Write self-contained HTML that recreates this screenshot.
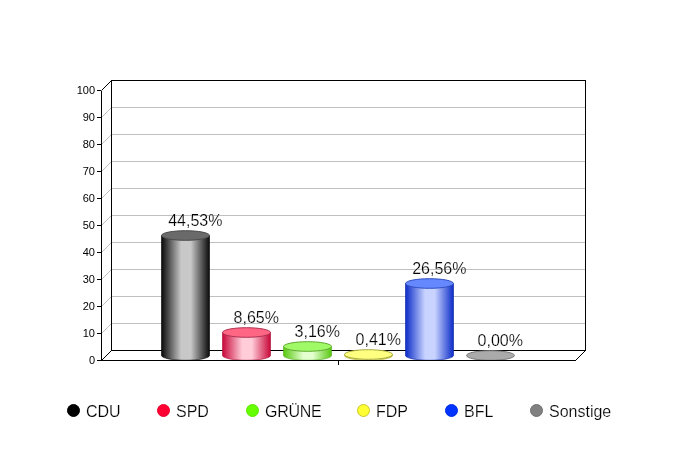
<!DOCTYPE html>
<html lang="de">
<head>
<meta charset="utf-8">
<title>Wahlergebnis</title>
<style>
html,body{margin:0;padding:0;background:#fff;}
body{width:678px;height:450px;overflow:hidden;}
svg{display:block;font-family:"Liberation Sans",Arial,sans-serif;}
.ax{font-size:11px;fill:#000;text-anchor:end;}
.val{font-size:16px;fill:#000;text-anchor:middle;stroke:#fff;stroke-width:0.2px;}
.leg{font-size:16px;fill:#000;stroke:#fff;stroke-width:0.2px;}
</style>
</head>
<body>
<svg width="678" height="450" viewBox="0 0 678 450">
<rect width="678" height="450" fill="#ffffff"/>
<defs>
<linearGradient id="g0" x1="0" y1="0" x2="1" y2="0"><stop offset="0" stop-color="#0a0a0a"/><stop offset="0.41" stop-color="#c8c8c8"/><stop offset="0.61" stop-color="#c8c8c8"/><stop offset="1" stop-color="#0a0a0a"/></linearGradient>
<linearGradient id="g1" x1="0" y1="0" x2="1" y2="0"><stop offset="0" stop-color="#c8083a"/><stop offset="0.41" stop-color="#ffccd8"/><stop offset="0.61" stop-color="#ffccd8"/><stop offset="1" stop-color="#c8083a"/></linearGradient>
<linearGradient id="g2" x1="0" y1="0" x2="1" y2="0"><stop offset="0" stop-color="#58c810"/><stop offset="0.41" stop-color="#e4ffd0"/><stop offset="0.61" stop-color="#e4ffd0"/><stop offset="1" stop-color="#58c810"/></linearGradient>
<linearGradient id="g3" x1="0" y1="0" x2="1" y2="0"><stop offset="0" stop-color="#c8c820"/><stop offset="0.41" stop-color="#ffffd8"/><stop offset="0.61" stop-color="#ffffd8"/><stop offset="1" stop-color="#c8c820"/></linearGradient>
<linearGradient id="g4" x1="0" y1="0" x2="1" y2="0"><stop offset="0" stop-color="#0c2cc8"/><stop offset="0.41" stop-color="#c8d4ff"/><stop offset="0.61" stop-color="#c8d4ff"/><stop offset="1" stop-color="#0c2cc8"/></linearGradient>
<linearGradient id="g5" x1="0" y1="0" x2="1" y2="0"><stop offset="0" stop-color="#686868"/><stop offset="0.41" stop-color="#e0e0e0"/><stop offset="0.61" stop-color="#e0e0e0"/><stop offset="1" stop-color="#686868"/></linearGradient>
</defs>
<g stroke="#c0c0c0" stroke-width="1" fill="none" shape-rendering="crispEdges">
<path d="M111.5 323.5H585.5"/>
<path d="M111.5 296.5H585.5"/>
<path d="M111.5 269.5H585.5"/>
<path d="M111.5 242.5H585.5"/>
<path d="M111.5 215.5H585.5"/>
<path d="M111.5 188.5H585.5"/>
<path d="M111.5 161.5H585.5"/>
<path d="M111.5 134.5H585.5"/>
<path d="M111.5 107.5H585.5"/>
</g>
<g stroke="#c0c0c0" stroke-width="1" fill="none">
<path d="M101.5 333.5L111.5 323.5"/>
<path d="M101.5 306.5L111.5 296.5"/>
<path d="M101.5 279.5L111.5 269.5"/>
<path d="M101.5 252.5L111.5 242.5"/>
<path d="M101.5 225.5L111.5 215.5"/>
<path d="M101.5 198.5L111.5 188.5"/>
<path d="M101.5 171.5L111.5 161.5"/>
<path d="M101.5 144.5L111.5 134.5"/>
<path d="M101.5 117.5L111.5 107.5"/>
</g>
<g stroke="#000" stroke-width="1" fill="none">
<path d="M111.5 350.5V80.5H585.5V350.5H111.5" shape-rendering="crispEdges"/>
<path d="M101.5 90.5L111.5 80.5M101.5 360.5L111.5 350.5M575.5 360.5L585.5 350.5"/>
</g>
<path d="M161.5 235.50V355.5A24.0 4.8 0 0 0 209.5 355.5V235.50Z" fill="url(#g0)" stroke="#000000" stroke-width="1" stroke-opacity="0.6"/>
<ellipse cx="185.5" cy="235.50" rx="24.0" ry="4.8" fill="#6a6a6a" stroke="#4a4a4a" stroke-width="1"/>
<text class="val" x="195.3" y="226.00">44,53%</text>
<path d="M222.5 332.50V355.5A24.0 4.8 0 0 0 270.5 355.5V332.50Z" fill="url(#g1)" stroke="#a80830" stroke-width="1" stroke-opacity="0.6"/>
<ellipse cx="246.5" cy="332.50" rx="24.0" ry="4.8" fill="#ff6684" stroke="#b03050" stroke-width="1"/>
<text class="val" x="256.3" y="323.00">8,65%</text>
<path d="M283.5 346.50V355.5A24.0 4.8 0 0 0 331.5 355.5V346.50Z" fill="url(#g2)" stroke="#50a818" stroke-width="1" stroke-opacity="0.6"/>
<ellipse cx="307.5" cy="346.50" rx="24.0" ry="4.8" fill="#a0fa68" stroke="#60a830" stroke-width="1"/>
<text class="val" x="317.3" y="337.00">3,16%</text>
<path d="M344.5 354.50V355.5A24.0 4.8 0 0 0 392.5 355.5V354.50Z" fill="url(#g3)" stroke="#a8a820" stroke-width="1" stroke-opacity="0.6"/>
<ellipse cx="368.5" cy="354.50" rx="24.0" ry="4.8" fill="#ffff80" stroke="#a8a840" stroke-width="1"/>
<text class="val" x="378.3" y="345.00">0,41%</text>
<path d="M405.5 283.50V355.5A24.0 4.8 0 0 0 453.5 355.5V283.50Z" fill="url(#g4)" stroke="#0820a0" stroke-width="1" stroke-opacity="0.6"/>
<ellipse cx="429.5" cy="283.50" rx="24.0" ry="4.8" fill="#6688ff" stroke="#3050c0" stroke-width="1"/>
<text class="val" x="439.3" y="274.00">26,56%</text>
<ellipse cx="490.5" cy="355.50" rx="24.0" ry="4.8" fill="#aaaaaa" stroke="#787878" stroke-width="1"/>
<text class="val" x="500.3" y="346.00">0,00%</text>
<g stroke="#000" stroke-width="1" fill="none" shape-rendering="crispEdges">
<path d="M101.5 90.5V360.5H575.5"/>
<path d="M97 90.5H101M97 117.5H101M97 144.5H101M97 171.5H101M97 198.5H101M97 225.5H101M97 252.5H101M97 279.5H101M97 306.5H101M97 333.5H101M97 360.5H101M338.5 360V365"/>
</g>
<text class="ax" x="95" y="363.5">0</text>
<text class="ax" x="95" y="336.5">10</text>
<text class="ax" x="95" y="309.5">20</text>
<text class="ax" x="95" y="282.5">30</text>
<text class="ax" x="95" y="255.5">40</text>
<text class="ax" x="95" y="228.5">50</text>
<text class="ax" x="95" y="201.5">60</text>
<text class="ax" x="95" y="174.5">70</text>
<text class="ax" x="95" y="147.5">80</text>
<text class="ax" x="95" y="120.5">90</text>
<text class="ax" x="95" y="93.5">100</text>
<circle cx="73.5" cy="410.5" r="6" fill="#000000" stroke="#000000" stroke-width="1"/>
<text class="leg" x="86.0" y="417">CDU</text>
<circle cx="163.5" cy="410.5" r="6" fill="#ff0033" stroke="#e8002e" stroke-width="1"/>
<text class="leg" x="176.0" y="417">SPD</text>
<circle cx="252.5" cy="410.5" r="6" fill="#66ff00" stroke="#5ce600" stroke-width="1"/>
<text class="leg" x="265.0" y="417" letter-spacing="-0.25">GRÜNE</text>
<circle cx="363.5" cy="410.5" r="6" fill="#ffff33" stroke="#c8c828" stroke-width="1"/>
<text class="leg" x="376.0" y="417">FDP</text>
<circle cx="451.5" cy="410.5" r="6" fill="#0033ff" stroke="#002ee6" stroke-width="1"/>
<text class="leg" x="464.0" y="417">BFL</text>
<circle cx="536.5" cy="410.5" r="6" fill="#808080" stroke="#707070" stroke-width="1"/>
<text class="leg" x="549.0" y="417">Sonstige</text>
</svg>
</body>
</html>
